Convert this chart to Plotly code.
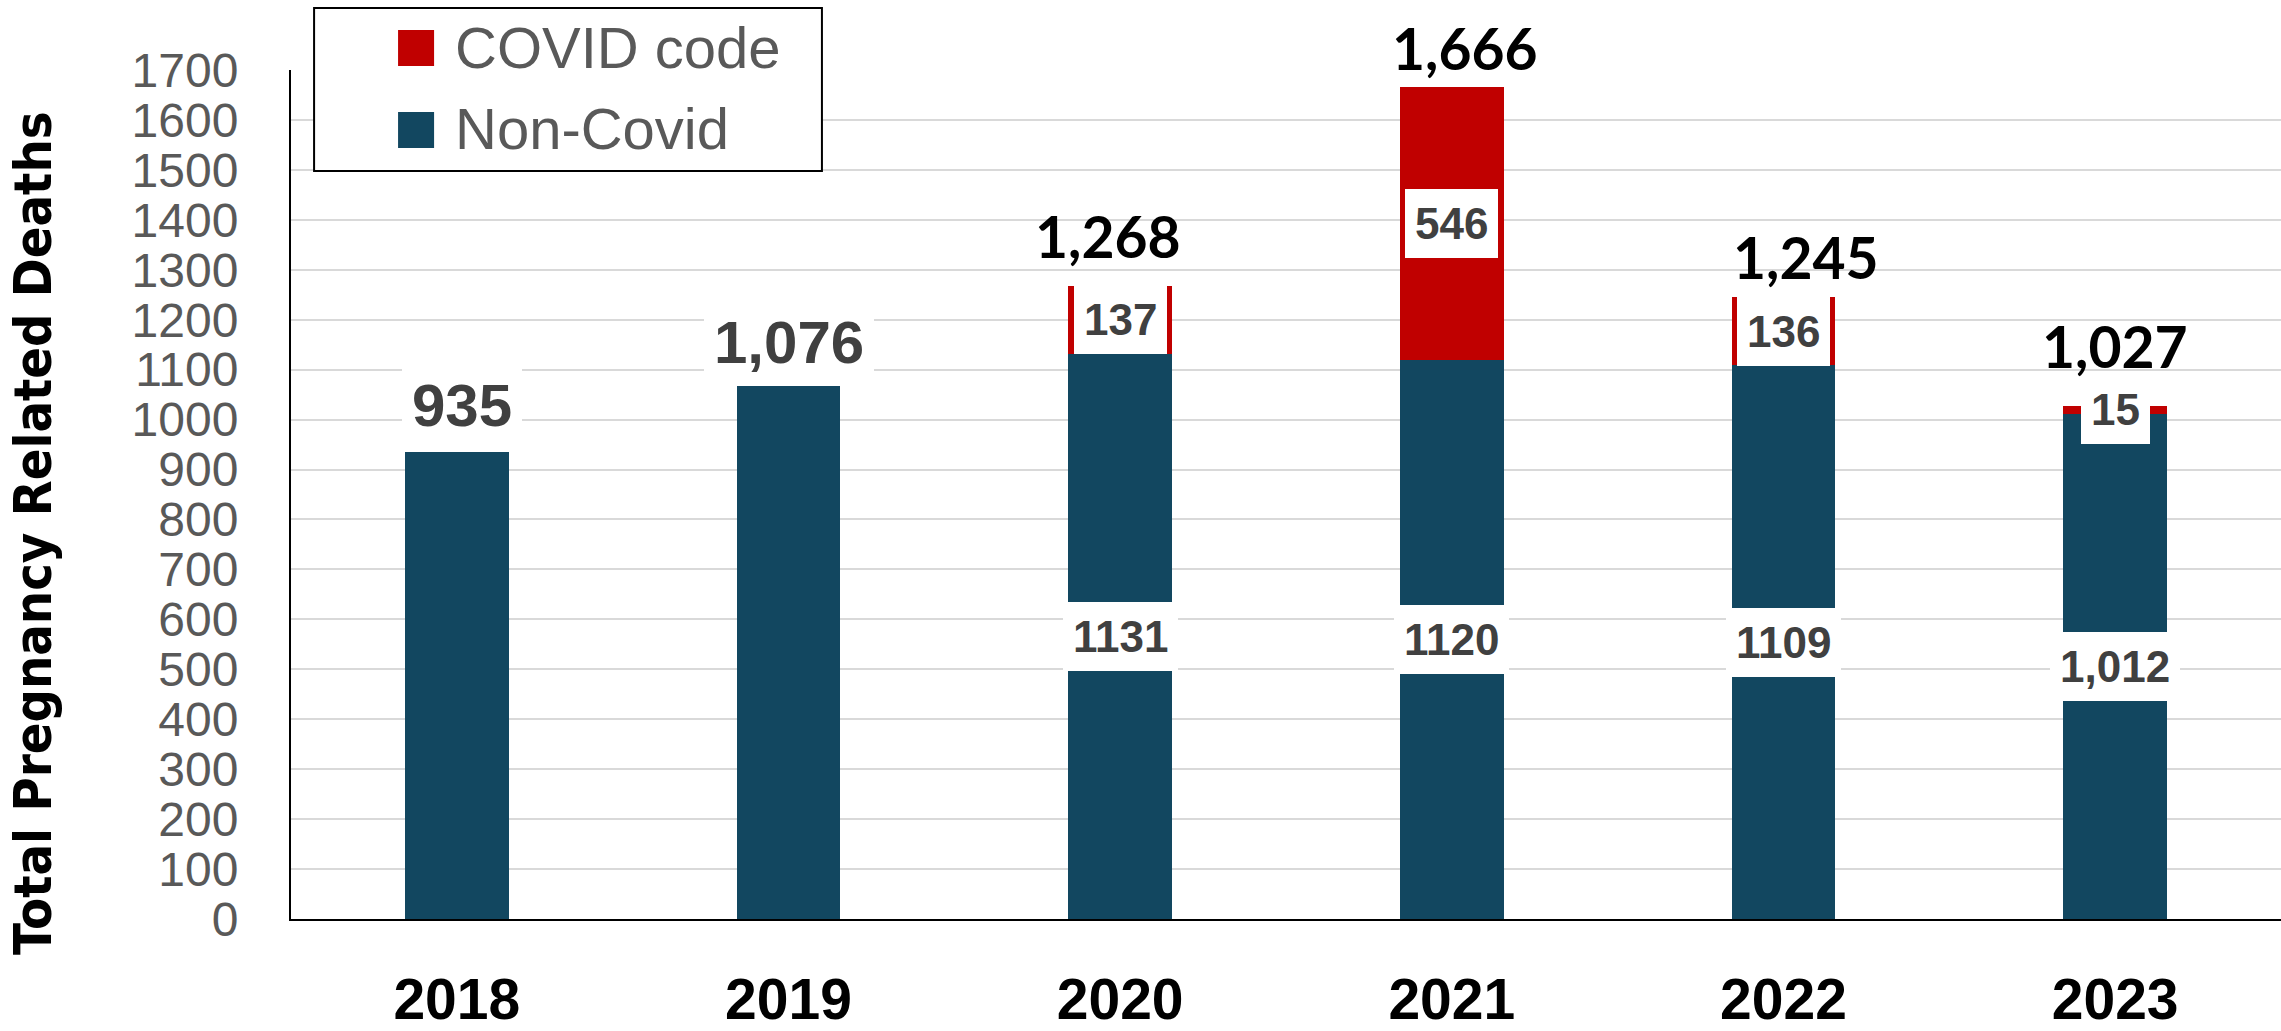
import plotly.graph_objects as go

years = ["2018", "2019", "2020", "2021", "2022", "2023"]
non_covid = [935, 1076, 1131, 1120, 1109, 1012]
covid = [0, 0, 137, 546, 136, 15]
non_covid_text = ["935", "1,076", "1131", "1120", "1109", "1,012"]
covid_text = ["", "", "137", "546", "136", "15"]
total_text = ["", "", "1,268", "1,666", "1,245", "1,027"]
y_ticks = list(range(0, 1701, 100))

BLUE = "#124760"
RED = "#C00000"
ARIAL = "Liberation Sans, Arial, sans-serif"
CALIBRI = "Lato, Carlito, Calibri, sans-serif"
TAHOMA = "DejaVu Sans Condensed, Tahoma, Liberation Sans, sans-serif"

totals = [a + b for a, b in zip(non_covid, covid)]

fig = go.Figure()
fig.add_trace(go.Bar(x=years, y=non_covid, name="Non-Covid", marker_color=BLUE,
                     marker_line_width=0))
fig.add_trace(go.Bar(x=years, y=covid, name="COVID code", marker_color=RED,
                     marker_line_width=0))

inner_font = dict(family=ARIAL, size=44, color="#404040", weight="bold")
annotations = []
# labels inside the segments, white boxes (x is the category index)
for i, yr in enumerate(years):
    if covid[i] > 0:
        annotations.append(dict(x=i, y=non_covid[i] / 2, text=non_covid_text[i],
                                showarrow=False, bgcolor="white", borderpad=10,
                                borderwidth=0, font=inner_font))
        annotations.append(dict(x=i, y=non_covid[i] + covid[i] / 2, text=covid_text[i],
                                showarrow=False, bgcolor="white", borderpad=10,
                                borderwidth=0, font=inner_font))

# labels on top of the bars (manual nudges like the original)
top_nudge = {"2018": (5, 47), "2019": (0, 39), "2020": (-12, 50),
             "2021": (13, 39), "2022": (22, 40), "2023": (0, 60)}
for i, yr in enumerate(years):
    dx, dy = top_nudge[yr]
    if covid[i] == 0:
        annotations.append(dict(x=i, y=totals[i], text=non_covid_text[i],
                                showarrow=False, bgcolor="white", borderpad=10,
                                borderwidth=0, xshift=dx, yshift=dy,
                                font=dict(family=ARIAL, size=60, color="#404040",
                                          weight="bold")))
    else:
        annotations.append(dict(x=i, y=totals[i], text=total_text[i],
                                showarrow=False, xshift=dx, yshift=dy,
                                font=dict(family=CALIBRI, size=57, color="black",
                                          weight="bold")))

# y axis title
annotations.append(dict(xref="paper", yref="paper", x=-0.13, y=0.455,
                        xanchor="center", yanchor="middle",
                        text="Total Pregnancy Related Deaths", textangle=-90,
                        showarrow=False,
                        font=dict(family=TAHOMA, size=52, color="black", weight="bold")))

# hand-drawn legend
shapes = [
    dict(type="rect", xref="paper", yref="paper", x0=0.0116, x1=0.2668,
         y0=0.881, y1=1.073, line=dict(color="black", width=2), fillcolor="white",
         layer="above"),
    dict(type="rect", xref="paper", yref="paper", x0=0.0538, x1=0.0719,
         y0=1.0047, y1=1.0471, line_width=0, fillcolor=RED, layer="above"),
    dict(type="rect", xref="paper", yref="paper", x0=0.0538, x1=0.0719,
         y0=0.9081, y1=0.9505, line_width=0, fillcolor=BLUE, layer="above"),
]
for name, ypos in [("COVID code", 1.027), ("Non-Covid", 0.931)]:
    annotations.append(dict(xref="paper", yref="paper", x=0.0814, y=ypos,
                            xanchor="left", yanchor="middle", text=name,
                            showarrow=False,
                            font=dict(family=ARIAL, size=58, color="#595959")))

fig.update_layout(
    width=2281, height=1031, autosize=False,
    margin=dict(l=291, r=0, t=70, b=112),
    barmode="stack", bargap=0.687,
    plot_bgcolor="white", paper_bgcolor="white",
    showlegend=False,
    annotations=annotations, shapes=shapes,
    xaxis=dict(type="category", range=[-0.5, 5.5], showgrid=False,
               showline=True, linecolor="black", linewidth=2,
               ticks="", ticklabelstandoff=30, automargin=False,
               tickfont=dict(family=ARIAL, size=57, color="black", weight="bold")),
    yaxis=dict(range=[0, 1700], tickvals=y_ticks, showgrid=True,
               gridcolor="#d9d9d9", gridwidth=2, zeroline=False,
               showline=True, linecolor="black", linewidth=2,
               ticks="", ticklabelstandoff=41, automargin=False,
               tickfont=dict(family=ARIAL, size=48, color="#595959")),
)

# drop the default page margin so the figure fills the window exactly
fig.write_html("out.html", config={"displayModeBar": False},
               post_script="document.body.style.margin='0';document.body.style.overflow='hidden';")
